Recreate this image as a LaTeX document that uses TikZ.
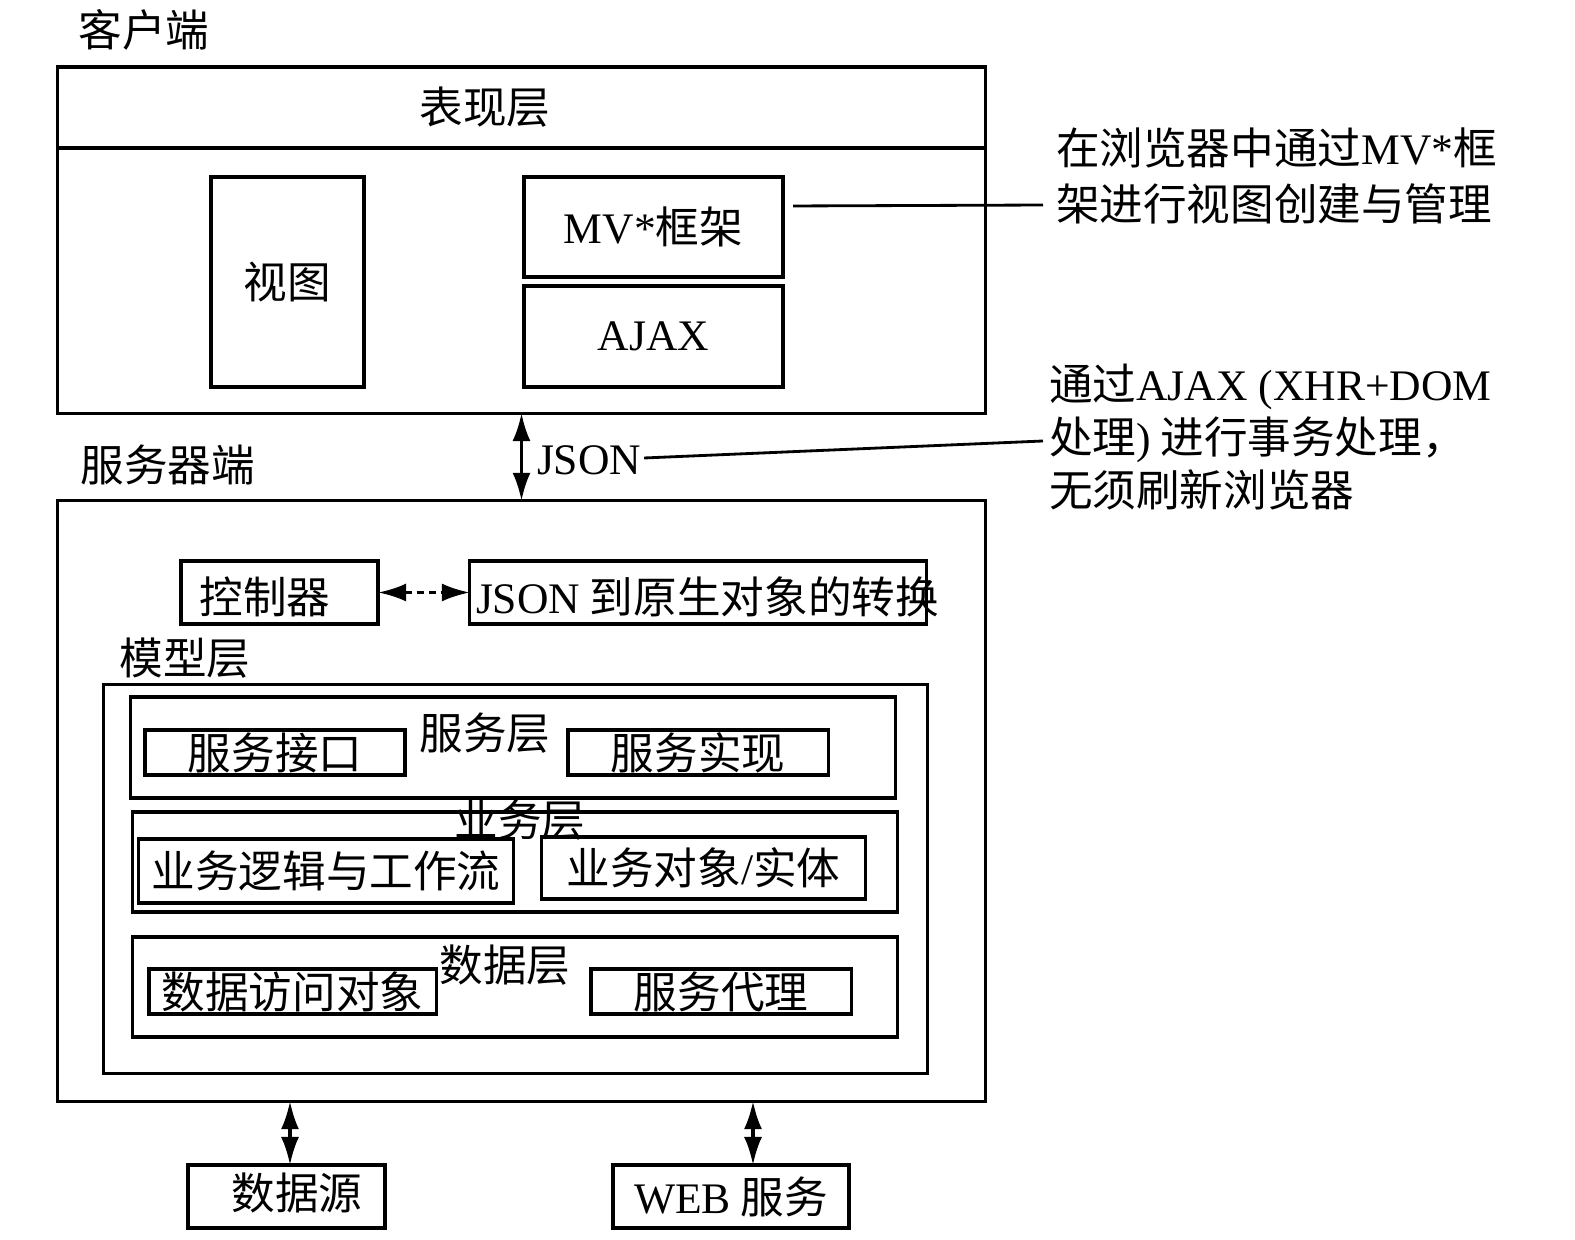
\documentclass[tikz,border=0pt]{standalone}
\usepackage{fontspec}
\setmainfont{Noto Sans CJK SC}
\newfontfamily\lat{Liberation Serif}
\usetikzlibrary{arrows.meta}

\begin{document}
\begin{tikzpicture}[x=0.01cm, y=-0.01cm,
    every node/.style={inner sep=0pt, outer sep=0pt, font=\fontsize{12.4}{15.4}\selectfont},
    box/.style={draw, line width=0.9pt},
    link/.style={line width=0.9pt, {Latex[length=2.8mm,width=1.8mm]}-{Latex[length=2.8mm,width=1.8mm]}},
    lead/.style={line width=0.8pt}]
    \useasboundingbox (0,0) rectangle (1575,1240);

    % Client side
    \node (clientlbl) at (144,30) {客户端};
    \node[box, minimum width=9.27cm, minimum height=3.46cm] (client) at (521.5,240) {};
    \node[box, minimum width=9.27cm, minimum height=0.81cm] (present) at (521.5,107.5) {};
    \node (presenttxt) at (485,107) {表现层};
    \node[box, minimum width=1.53cm, minimum height=2.10cm] (view) at (287.5,282) {视图};
    \node[box, minimum width=2.59cm, minimum height=1.00cm] (mvc) at (653.5,227) {{\lat MV*}框架};
    \node[box, minimum width=2.59cm, minimum height=1.01cm] (ajax) at (653.5,336.5) {\lat AJAX};

    % Server side
    \node (serverlbl) at (168,465) {服务器端};
    \node[box, minimum width=9.27cm, minimum height=6.00cm] (server) at (521.5,801) {};
    \node[box, minimum width=1.97cm, minimum height=0.63cm] (ctrl) at (279.5,592.5) {};
    \node (ctrltxt) at (265,597) {控制器};
    \node[box, minimum width=4.56cm, minimum height=0.63cm] (jsonconv) at (698,592.5) {};
    \node[anchor=west] (jsonconvtxt) at (476,597) {{\lat JSON} 到原生对象的转换};

    % Model layer
    \node (modellbl) at (185,658) {模型层};
    \node[box, minimum width=8.23cm, minimum height=3.88cm] (model) at (515.5,879) {};

    \node[box, minimum width=7.64cm, minimum height=1.01cm] (svclayer) at (513,747.5) {};
    \node (svclbl) at (485,733) {服务层};
    \node[box, minimum width=2.60cm, minimum height=0.45cm] (svcif) at (275,752.5) {服务接口};
    \node[box, minimum width=2.60cm, minimum height=0.45cm] (svcimpl) at (698,752.5) {服务实现};

    \node[box, minimum width=7.64cm, minimum height=1.00cm] (bizlayer) at (515,862) {};
    \node (bizlbl) at (520,820) {业务层};
    \node[box, minimum width=3.74cm, minimum height=0.64cm] (bizlogic) at (326,871) {业务逻辑与工作流};
    \node[box, minimum width=3.23cm, minimum height=0.62cm] (bizobj) at (703.5,868) {业务对象{\lat /}实体};

    \node[box, minimum width=7.64cm, minimum height=1.00cm] (datalayer) at (515,987) {};
    \node (datalbl) at (505,965) {数据层};
    \node[box, minimum width=2.87cm, minimum height=0.45cm] (dao) at (292.5,991.5) {数据访问对象};
    \node[box, minimum width=2.60cm, minimum height=0.45cm] (proxy) at (721,991.5) {服务代理};

    % External
    \node[box, minimum width=1.97cm, minimum height=0.63cm] (datasrc) at (286.5,1196.5) {};
    \node (datasrctxt) at (297,1193) {数据源};
    \node[box, minimum width=2.36cm, minimum height=0.63cm] (web) at (731,1196.5) {{\lat WEB} 服务};

    % Notes
    \node[anchor=west, align=left, font=\fontsize{12.4}{15.8}\selectfont] (note1) at (1056,176)
        {在浏览器中通过{\lat MV*}框\\架进行视图创建与管理};
    \node[anchor=west, align=left, font=\fontsize{12.4}{15}\selectfont] (note2) at (1049,437)
        {通过{\lat AJAX (XHR+DOM}\\处理{\lat )} 进行事务处理，\\无须刷新浏览器};
    \node[anchor=west] (json) at (537,460) {\lat JSON};

    % Connectors
    \draw[link] (client.south) -- (server.north);
    \draw[link, dash pattern=on 2pt off 1.5pt] (ctrl.east) -- (jsonconv.west);
    \draw[link] (server.south -| 290,0) -- (datasrc.north -| 290,0);
    \draw[link] (server.south -| 753,0) -- (web.north -| 753,0);
    \draw[lead] ([xshift=0.1cm,yshift=0.21cm]mvc.east) -- ([xshift=-0.13cm,yshift=-0.29cm]note1.west);
    \draw[lead] ([xshift=0.03cm,yshift=0.02cm]json.east) -- ([xshift=-0.06cm,yshift=-0.04cm]note2.west);

\end{tikzpicture}
\end{document}
